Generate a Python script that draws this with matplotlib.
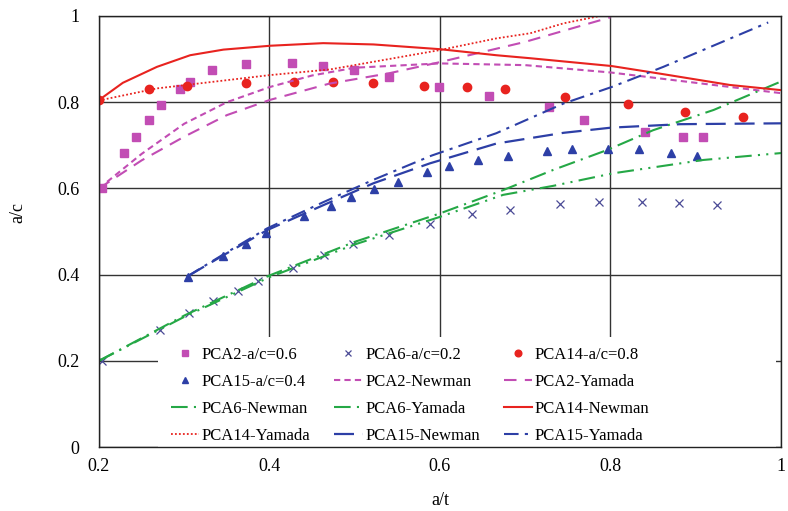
import matplotlib.pyplot as plt
from matplotlib.patches import Rectangle

plt.rcParams["font.family"] = ["Liberation Serif", "DejaVu Serif"]

# measured points
pca2_x = [0.204, 0.229, 0.243, 0.259, 0.273, 0.295, 0.307, 0.332, 0.372, 0.427,
          0.463, 0.499, 0.540, 0.599, 0.657, 0.728, 0.769, 0.841, 0.885, 0.909]
pca2_y = [0.600, 0.683, 0.719, 0.759, 0.793, 0.830, 0.848, 0.875, 0.889, 0.890,
          0.885, 0.874, 0.859, 0.835, 0.815, 0.789, 0.759, 0.732, 0.719, 0.719]

pca6_x = [0.204, 0.272, 0.306, 0.334, 0.363, 0.386, 0.428, 0.464, 0.498, 0.540,
          0.588, 0.638, 0.682, 0.741, 0.787, 0.837, 0.880, 0.925]
pca6_y = [0.200, 0.271, 0.310, 0.339, 0.363, 0.385, 0.416, 0.445, 0.470, 0.493,
          0.517, 0.541, 0.551, 0.563, 0.568, 0.569, 0.565, 0.561]

pca14_x = [0.200, 0.259, 0.303, 0.373, 0.429, 0.475, 0.522, 0.581, 0.632, 0.676,
           0.747, 0.820, 0.887, 0.955]
pca14_y = [0.804, 0.831, 0.838, 0.844, 0.846, 0.848, 0.844, 0.838, 0.835, 0.831,
           0.811, 0.795, 0.777, 0.766]

pca15_x = [0.304, 0.345, 0.372, 0.396, 0.440, 0.472, 0.496, 0.523, 0.551, 0.585,
           0.611, 0.645, 0.680, 0.726, 0.755, 0.797, 0.833, 0.871, 0.902]
pca15_y = [0.394, 0.443, 0.470, 0.496, 0.537, 0.560, 0.579, 0.599, 0.616, 0.637,
           0.652, 0.666, 0.676, 0.687, 0.691, 0.691, 0.691, 0.682, 0.676]

# predicted curves
pca2_newman_x = [0.2, 0.25, 0.3, 0.35, 0.4, 0.45, 0.5, 0.6, 0.7, 0.8, 0.9, 1.0]
pca2_newman_y = [0.600, 0.680, 0.750, 0.800, 0.835, 0.862, 0.880, 0.890, 0.886, 0.869, 0.845, 0.821]
pca2_yamada_x = [0.2, 0.25, 0.3, 0.35, 0.4, 0.47, 0.54, 0.6, 0.7, 0.8]
pca2_yamada_y = [0.600, 0.665, 0.720, 0.770, 0.805, 0.843, 0.867, 0.893, 0.940, 0.997]

pca6_newman_x = [0.2, 0.3, 0.4, 0.5, 0.6, 0.674, 0.733, 0.803, 0.909, 1.0]
pca6_newman_y = [0.200, 0.302, 0.394, 0.470, 0.534, 0.585, 0.606, 0.635, 0.666, 0.682]
pca6_yamada_x = [0.2, 0.3, 0.4, 0.5, 0.6, 0.674, 0.733, 0.796, 0.850, 0.921, 1.0]
pca6_yamada_y = [0.200, 0.305, 0.398, 0.476, 0.542, 0.596, 0.643, 0.689, 0.735, 0.782, 0.848]

pca14_newman_x = [0.2, 0.228, 0.268, 0.307, 0.346, 0.401, 0.463, 0.522, 0.6, 0.666, 0.706, 0.801, 0.862, 0.94, 1.0]
pca14_newman_y = [0.805, 0.845, 0.882, 0.909, 0.922, 0.931, 0.937, 0.934, 0.923, 0.909, 0.902, 0.884, 0.865, 0.840, 0.828]
pca14_yamada_x = [0.2, 0.268, 0.401, 0.471, 0.6, 0.666, 0.706, 0.745, 0.8]
pca14_yamada_y = [0.804, 0.832, 0.863, 0.876, 0.921, 0.948, 0.960, 0.983, 1.005]

pca15_newman_x = [0.303, 0.346, 0.397, 0.463, 0.522, 0.588, 0.666, 0.745, 0.801, 0.882, 1.0]
pca15_newman_y = [0.395, 0.445, 0.503, 0.561, 0.612, 0.658, 0.704, 0.729, 0.741, 0.749, 0.751]
pca15_yamada_x = [0.303, 0.346, 0.397, 0.463, 0.522, 0.59, 0.666, 0.745, 0.801, 0.862, 0.985]
pca15_yamada_y = [0.395, 0.447, 0.507, 0.568, 0.620, 0.676, 0.728, 0.797, 0.835, 0.882, 0.985]

magenta = "#c24db4"
red = "#e8231f"
blue = "#2d3fa6"
green = "#25a846"
xcol = "#4a4a96"

fig = plt.figure(figsize=(7.88, 5.11), dpi=100)
ax = fig.add_axes([0.1256, 0.1252, 0.8655, 0.8435])

h = {}
h["s2"], = ax.plot(pca2_x, pca2_y, "s", color=magenta, ms=6, ls="none", label="PCA2-a/c=0.6")
h["s6"], = ax.plot(pca6_x, pca6_y, "x", color=xcol, ms=6, mew=0.9, ls="none", label="PCA6-a/c=0.2")
h["s14"], = ax.plot(pca14_x, pca14_y, "o", color=red, ms=6, ls="none", label="PCA14-a/c=0.8")
h["s15"], = ax.plot(pca15_x, pca15_y, "^", color=blue, ms=6, ls="none", label="PCA15-a/c=0.4")

h["n2"], = ax.plot(pca2_newman_x, pca2_newman_y, color=magenta, lw=1.5, ls=(0, (3, 2)), label="PCA2-Newman")
h["y2"], = ax.plot(pca2_yamada_x, pca2_yamada_y, color=magenta, lw=1.5, ls=(0, (6, 4)), label="PCA2-Yamada")
h["n6"], = ax.plot(pca6_newman_x, pca6_newman_y, color=green, lw=1.5, ls=(0, (8, 3, 1, 3, 1, 3)), label="PCA6-Newman")
h["y6"], = ax.plot(pca6_yamada_x, pca6_yamada_y, color=green, lw=1.5, ls=(0, (8, 3, 1, 3)), label="PCA6-Yamada")
h["n14"], = ax.plot(pca14_newman_x, pca14_newman_y, color=red, lw=1.5, ls="-", label="PCA14-Newman")
h["y14"], = ax.plot(pca14_yamada_x, pca14_yamada_y, color=red, lw=1.3, ls=(0, (1, 1.2)), label="PCA14-Yamada")
h["n15"], = ax.plot(pca15_newman_x, pca15_newman_y, color=blue, lw=1.6, ls=(0, (9, 4)), label="PCA15-Newman")
h["y15"], = ax.plot(pca15_yamada_x, pca15_yamada_y, color=blue, lw=1.5, ls=(0, (7, 3, 1.5, 3)), label="PCA15-Yamada")

ax.set_xlim(0.2, 1.0)
ax.set_ylim(0, 1)
ax.set_xticks([0.2, 0.4, 0.6, 0.8, 1.0])
ax.set_xticklabels(["0.2", "0.4", "0.6", "0.8", "1"])
ax.set_yticks([0, 0.2, 0.4, 0.6, 0.8, 1.0])
ax.set_yticklabels(["0", "0.2", "0.4", "0.6", "0.8", "1"])
ax.tick_params(axis="x", length=0, labelsize=13, pad=8)
ax.tick_params(axis="y", length=0, labelsize=13, pad=14)
ax.grid(True, color="#333333", lw=1)
ax.set_axisbelow(True)
for s in ax.spines.values():
    s.set_color("#222222")
    s.set_linewidth(1)

ax.set_xlabel("a/t", fontsize=13, labelpad=12)
ax.set_ylabel("a/c", fontsize=13)
ax.yaxis.set_label_coords(-0.107, 0.545)

# white block behind the legend, hides the grid there
ax.add_patch(Rectangle((0.0865, 0.0), 0.9065, 0.255, transform=ax.transAxes,
                       facecolor="white", edgecolor="none", zorder=1.5))

rows = [["s2", "s6", "s14"], ["s15", "n2", "y2"], ["n6", "y6", "n14"], ["y14", "n15", "y15"]]
order = [rows[r][c] for c in range(3) for r in range(4)]
leg = ax.legend([h[k] for k in order], [h[k].get_label() for k in order],
                ncol=3, loc="upper left", bbox_to_anchor=(0.105, 0.233),
                borderaxespad=0, borderpad=0, frameon=False, fontsize=12,
                handlelength=1.7, handletextpad=0.15, labelspacing=0.66,
                columnspacing=1.45, markerscale=0.8)

fig.savefig("out.png", dpi=100)
